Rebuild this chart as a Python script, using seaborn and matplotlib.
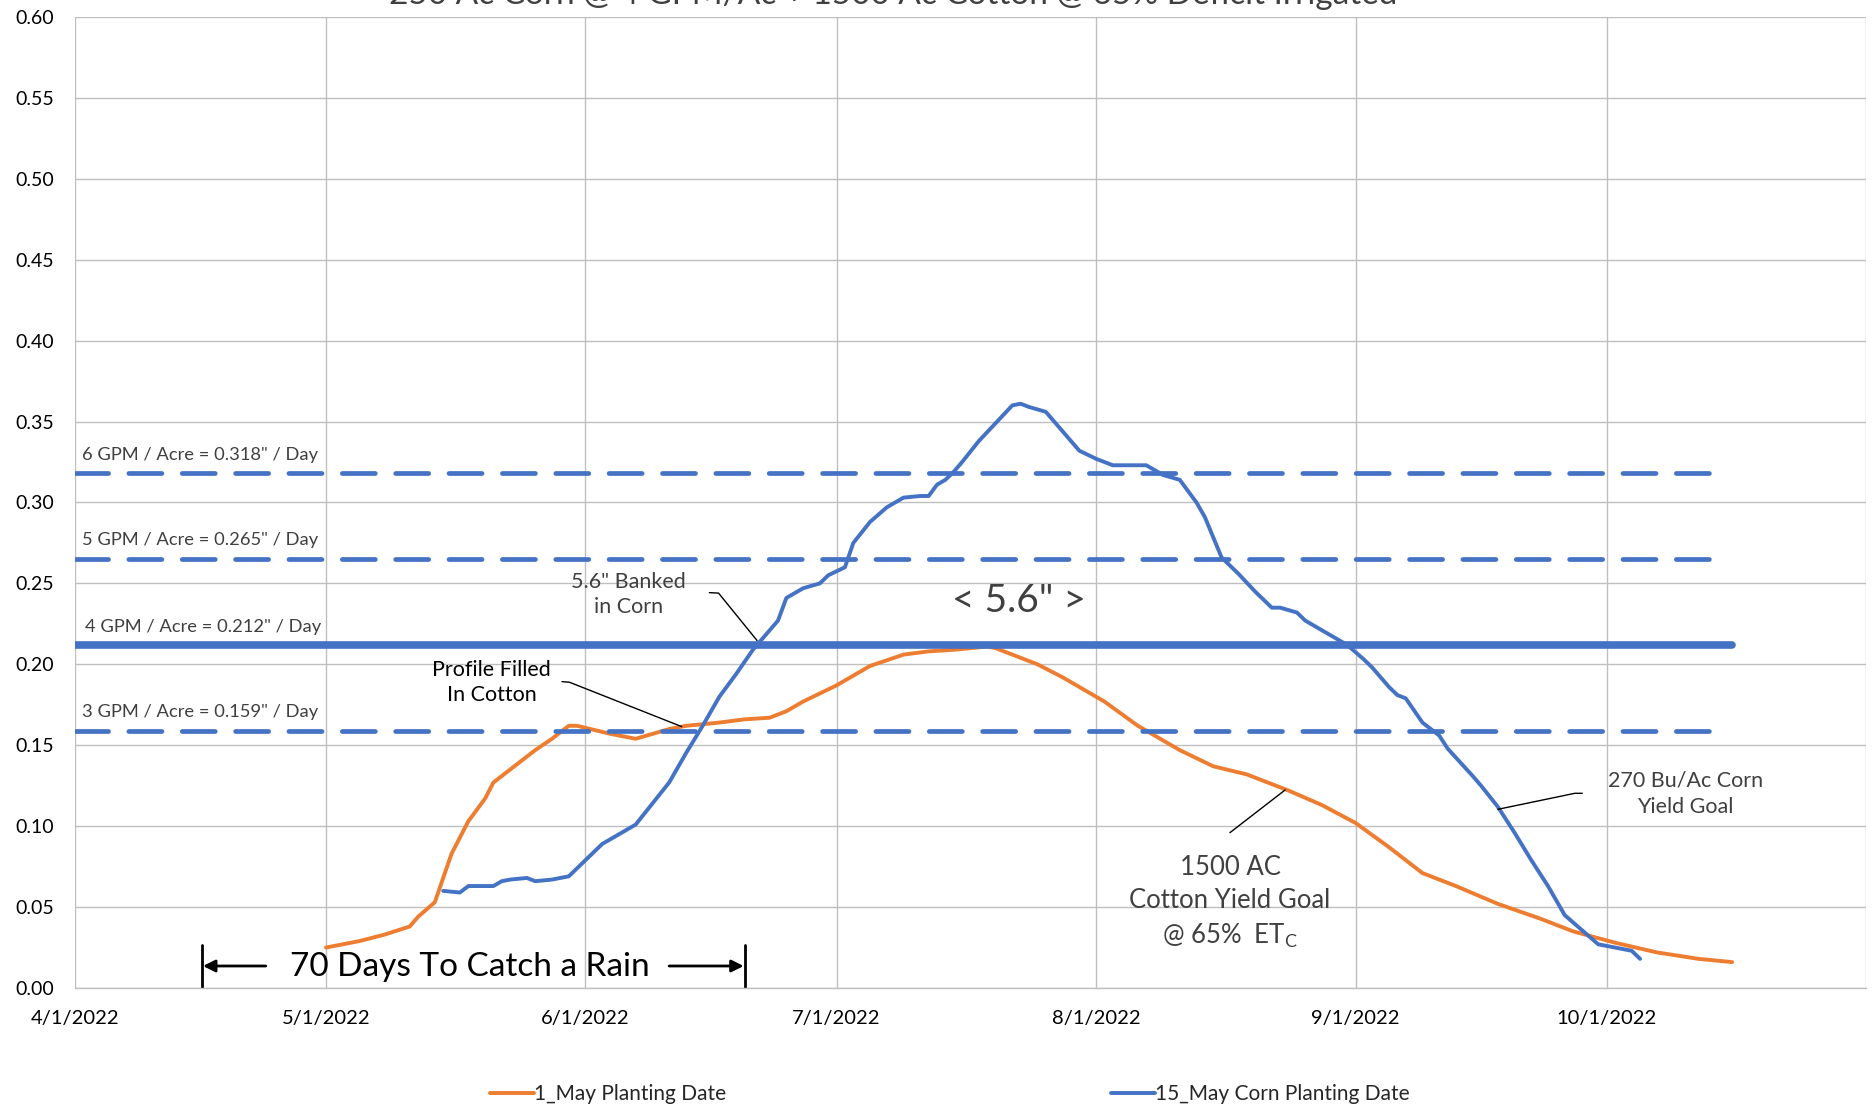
import numpy as np
import pandas as pd
import matplotlib
matplotlib.use("Agg")
from matplotlib import pyplot as plt
import matplotlib.dates as mdates
import seaborn as sns

sns.set_style("white")
plt.rcParams["font.family"] = ["Lato", "DejaVu Sans"]

START = pd.Timestamp("2022-04-01")

# days after 4/1/2022 and daily ET (in/day)
cotton_days = [30, 34, 37, 40, 41, 43, 45, 47, 49, 50, 53, 55, 57, 59, 60, 64, 67, 71, 73, 77,
               80, 83, 85, 87, 91, 95, 99, 102, 105, 107, 109, 110, 112, 115, 118, 121, 123, 127,
               132, 136, 140, 143, 145, 149, 153, 157, 161, 165, 170, 175, 179, 184, 189, 194, 198]
cotton_et = [0.025, 0.029, 0.033, 0.038, 0.044, 0.053, 0.083, 0.103, 0.117, 0.127, 0.139, 0.147,
             0.154, 0.162, 0.162, 0.157, 0.154, 0.160, 0.162, 0.164, 0.166, 0.167, 0.171, 0.177,
             0.187, 0.199, 0.206, 0.208, 0.209, 0.210, 0.211, 0.210, 0.206, 0.200, 0.192, 0.183,
             0.177, 0.162, 0.147, 0.137, 0.132, 0.126, 0.122, 0.113, 0.102, 0.087, 0.071, 0.063,
             0.052, 0.043, 0.035, 0.028, 0.022, 0.018, 0.016]

corn_days = [44, 46, 47, 50, 51, 52, 54, 55, 57, 59, 61, 63, 65, 67, 69, 71, 73, 75, 77, 79,
             81, 82, 84, 85, 87, 89, 90, 92, 93, 95, 97, 99, 101, 102, 103, 104, 105, 106, 108,
             110, 112, 113, 114, 116, 117, 119, 120, 122, 124, 128, 130, 132, 134, 135, 137, 139,
             141, 143, 144, 146, 147, 149, 152, 154, 155, 157, 158, 159, 161, 163, 164, 167, 168,
             170, 172, 174, 176, 178, 180, 182, 184, 186, 187]
corn_et = [0.060, 0.059, 0.063, 0.063, 0.066, 0.067, 0.068, 0.066, 0.067, 0.069, 0.079, 0.089,
           0.095, 0.101, 0.114, 0.127, 0.145, 0.162, 0.180, 0.194, 0.209, 0.215, 0.227, 0.241,
           0.247, 0.250, 0.255, 0.260, 0.275, 0.288, 0.297, 0.303, 0.304, 0.304, 0.311, 0.314,
           0.319, 0.325, 0.338, 0.349, 0.360, 0.361, 0.359, 0.356, 0.350, 0.338, 0.332, 0.327,
           0.323, 0.323, 0.317, 0.314, 0.300, 0.291, 0.266, 0.256, 0.245, 0.235, 0.235, 0.232,
           0.227, 0.221, 0.212, 0.203, 0.198, 0.186, 0.181, 0.179, 0.164, 0.156, 0.148, 0.131,
           0.125, 0.112, 0.096, 0.079, 0.063, 0.045, 0.036, 0.027, 0.025, 0.023, 0.018]

series_names = ["1_May Planting Date", "15_May Corn Planting Date"]
series_colors = ["#ED7D31", "#4472C4"]

gpm_levels = [0.318, 0.265, 0.212, 0.159]
gpm_labels = ['6 GPM / Acre = 0.318" / Day', '5 GPM / Acre = 0.265" / Day',
              '4 GPM / Acre = 0.212" / Day', '3 GPM / Acre = 0.159" / Day']
gpm_end_days = [196, 196, 198, 196]

month_ticks = ["2022-04-01", "2022-05-01", "2022-06-01", "2022-07-01",
               "2022-08-01", "2022-09-01", "2022-10-01", "2022-11-01"]
month_labels = ["4/1/2022", "5/1/2022", "6/1/2022", "7/1/2022",
                "8/1/2022", "9/1/2022", "10/1/2022", ""]

title = "250 Ac Corn @ 4 GPM/Ac + 1500 Ac Cotton @ 65% Deficit Irrigated"


def day(n):
    return mdates.date2num(START + pd.Timedelta(days=n))


df = pd.concat([
    pd.DataFrame({"date": START + pd.to_timedelta(cotton_days, unit="D"), "et": cotton_et,
                  "series": series_names[0]}),
    pd.DataFrame({"date": START + pd.to_timedelta(corn_days, unit="D"), "et": corn_et,
                  "series": series_names[1]}),
], ignore_index=True)

fig = plt.figure(figsize=(18.73, 11.08), dpi=100)
ax = fig.add_axes([0.040, 0.1083, 0.9563, 0.8764])

sns.lineplot(data=df, x="date", y="et", hue="series", palette=dict(zip(series_names, series_colors)),
             linewidth=2.8, estimator=None, ax=ax, legend=False)

# irrigation capacity lines
for lvl, lab, end in zip(gpm_levels, gpm_labels, gpm_end_days):
    if lvl == 0.212:
        ax.plot([day(0), day(end)], [lvl, lvl], color="#4472C4", lw=5.5,
                solid_capstyle="round", zorder=3)
        ax.text(day(1.2), lvl + 0.008, lab, fontsize=13.2, color="#404040", va="baseline")
    else:
        ax.plot([day(0), day(end)], [lvl, lvl], color="#4472C4", lw=3.4,
                dashes=(7.0, 4.3), dash_capstyle="round", zorder=3)
        ax.text(day(0.8), lvl + 0.0085, lab, fontsize=13.2, color="#404040", va="baseline")

# annotations
ax.text(day(66.1), 0.243, '5.6" Banked\nin Corn', fontsize=15.5, color="#404040",
        ha="center", va="center", linespacing=1.3)
ax.plot([day(75.8), day(76.9), day(81.5)], [0.2443, 0.2440, 0.2147], color="black", lw=1)

ax.text(day(49.8), 0.189, "Profile Filled\nIn Cotton", fontsize=15.5, color="black",
        ha="center", va="center", linespacing=1.3)
ax.plot([day(58.2), day(59.1), day(72.5)], [0.1893, 0.1889, 0.1615], color="black", lw=1)

ax.text(day(112.8), 0.239, '< 5.6" >', fontsize=28, color="#404040", ha="center", va="center")

ax.text(day(138.0), 0.053, "1500 AC\nCotton Yield Goal\n@ 65%  ET$_{\\mathregular{C}}$",
        fontsize=18.5, color="#404040", ha="center", va="center", linespacing=1.4)
ax.plot([day(138.0), day(144.6)], [0.096, 0.1224], color="black", lw=1)

ax.text(day(192.4), 0.120, "270 Bu/Ac Corn\nYield Goal", fontsize=15.5, color="#404040",
        ha="center", va="center", linespacing=1.35)
ax.plot([day(170.0), day(179.2), day(180.1)], [0.1104, 0.1203, 0.1203], color="black", lw=1)

# 70 days bracket
ax.text(day(47.2), 0.013, "70 Days To Catch a Rain", fontsize=24, color="black",
        ha="center", va="center")
for d in [15.2, 80.1]:
    ax.plot([day(d), day(d)], [0.0007, 0.0266], color="black", lw=2, clip_on=False)
ax.annotate("", xy=(day(15.3), 0.0136), xytext=(day(22.8), 0.0136),
            arrowprops=dict(arrowstyle="-|>", color="black", lw=2, mutation_scale=18,
                            shrinkA=0, shrinkB=0))
ax.annotate("", xy=(day(79.9), 0.0136), xytext=(day(71.0), 0.0136),
            arrowprops=dict(arrowstyle="-|>", color="black", lw=2, mutation_scale=18,
                            shrinkA=0, shrinkB=0))

# axes styling
ax.set_xlim(day(0), day(214))
ax.set_ylim(0, 0.60)
ax.set_yticks(np.arange(0, 0.61, 0.05))
ax.set_yticklabels([f"{v:.2f}" for v in np.arange(0, 0.61, 0.05)])
ax.set_xticks([mdates.date2num(pd.Timestamp(t)) for t in month_ticks])
ax.set_xticklabels(month_labels)
ax.grid(True, color="#BFBFBF", lw=1.0)
ax.set_axisbelow(True)
for side in ["top", "left", "right"]:
    ax.spines[side].set_visible(False)
ax.spines["bottom"].set_color("#BFBFBF")
ax.spines["bottom"].set_linewidth(1.0)
ax.tick_params(axis="y", length=0, pad=15, labelsize=14, labelcolor="black")
ax.tick_params(axis="x", length=4, width=1, color="#BFBFBF", pad=12, labelsize=14.5,
               labelcolor="black")
ax.set_xlabel("")
ax.set_ylabel("")

fig.text(0.4768, 0.996, title, ha="center", va="baseline", fontsize=24, color="#404040")

fig.legend(handles=ax.lines[:2], labels=series_names, loc="center", bbox_to_anchor=(0.507, 0.0126),
           ncol=2, frameon=False, fontsize=15, handlelength=2.1, handletextpad=0.0,
           columnspacing=18.5)

fig.savefig("out.png", dpi=100)
